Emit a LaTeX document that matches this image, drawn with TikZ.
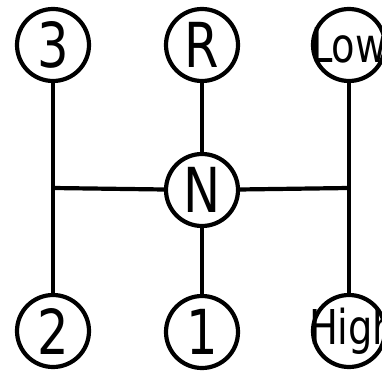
\documentclass[tikz,border=0pt]{standalone}
\usepackage{fontspec}
\setmainfont{DejaVu Sans}
\newfontfamily\gearfont[FakeStretch=0.8]{DejaVu Sans}
\begin{document}
\begin{tikzpicture}[x=1pt,y=-1pt,
  gear/.style={circle,draw,line width=4.2pt,minimum size=72pt,inner sep=0pt,
    font=\gearfont\fontsize{62}{62}\selectfont},
  lowgear/.style={gear,font=\gearfont\fontsize{48}{48}\selectfont},
  highgear/.style={gear,font=\gearfont\fontsize{48}{48}\selectfont},
  rod/.style={line width=4.2pt}]
\useasboundingbox (0,0) rectangle (382,374);
% gate positions
\node[gear] (g3) at (53,45) {3};
\node[gear] (gR) at (202,45) {R};
\node[lowgear] (gL) at (349,45) {\makebox[0pt][l]{\hspace*{-38pt}Low}};
\node[gear] (gN) at (202,190) {N};
\node[gear] (g2) at (53,331) {2};
\node[gear] (g1) at (202,332) {1};
\node[highgear] (gH) at (349,331) {\makebox[0pt][l]{\hspace*{-40pt}High}};
% shift rails
\coordinate (jl) at (53,188);
\coordinate (jr) at (349,188);
\draw[rod] (g3) -- (g2);
\draw[rod] (gL) -- (gH);
\draw[rod] (gR) -- (gN);
\draw[rod] (gN) -- (g1);
\draw[rod] (jl) -- (gN);
\draw[rod] (gN) -- (jr);
\end{tikzpicture}
\end{document}
